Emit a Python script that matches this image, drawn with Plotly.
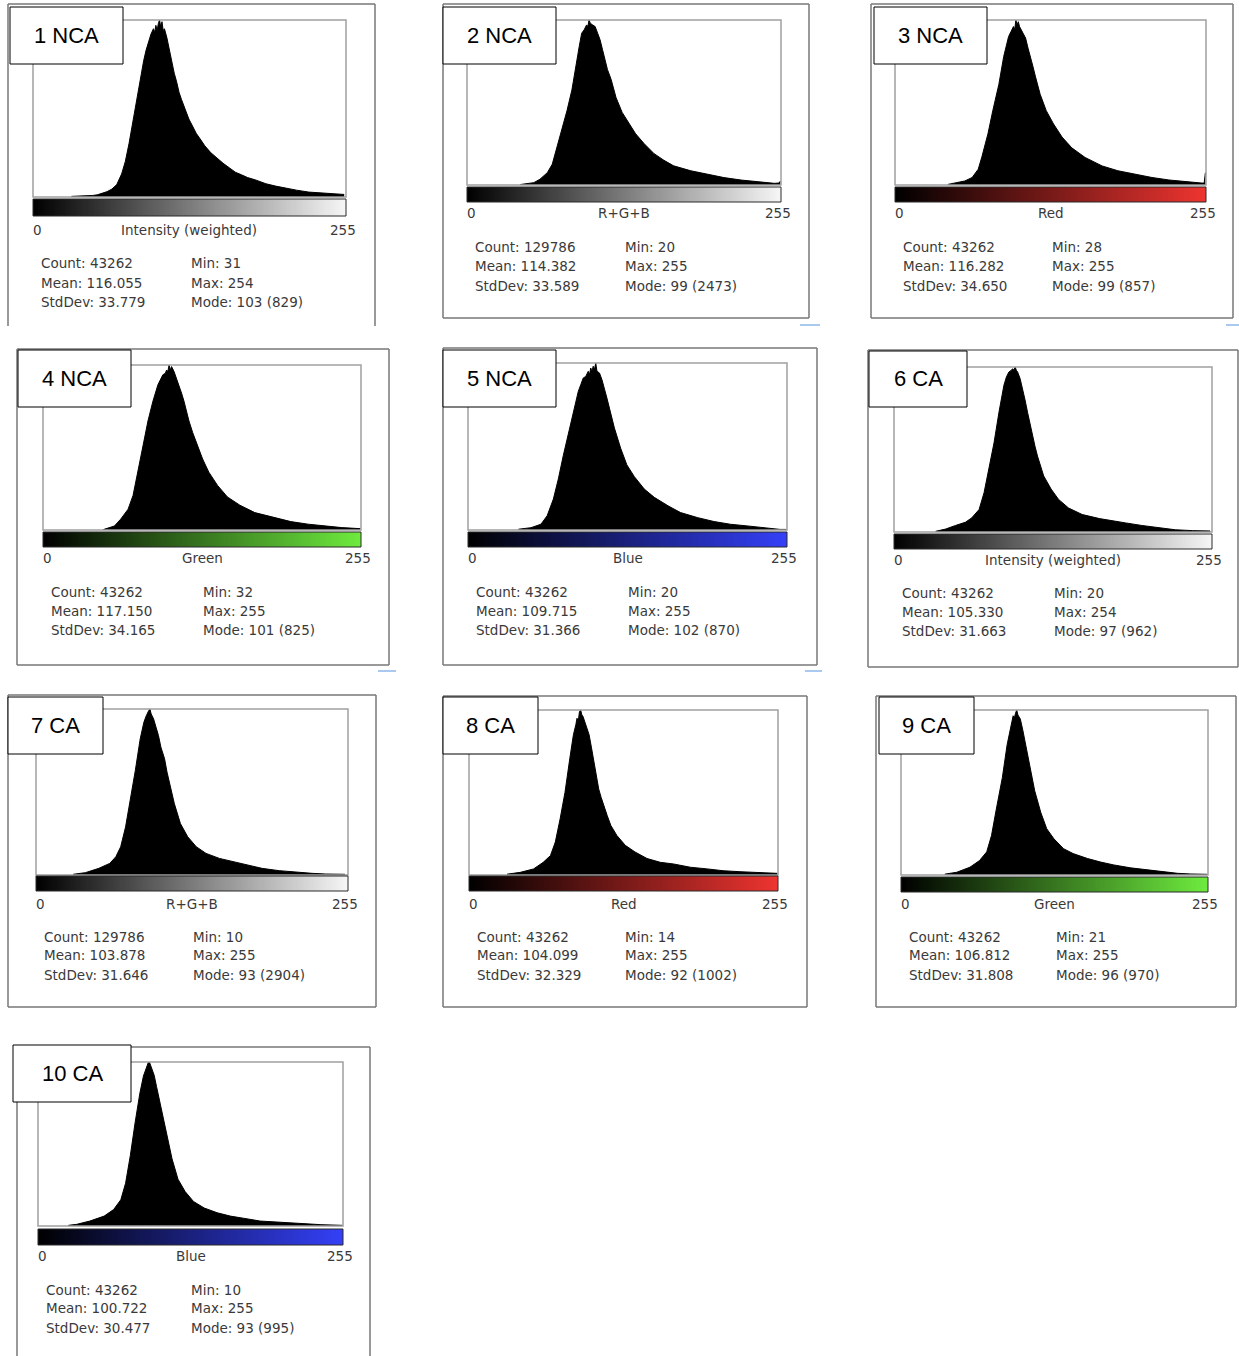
import plotly.graph_objects as go

W, H = 1239, 1356

# ---- per-panel summary statistics (ImageJ histogram readouts) ----
panel_titles = ["1 NCA", "2 NCA", "3 NCA", "4 NCA", "5 NCA",
                "6 CA", "7 CA", "8 CA", "9 CA", "10 CA"]
channel_names = ["Intensity (weighted)", "R+G+B", "Red", "Green", "Blue",
                 "Intensity (weighted)", "R+G+B", "Red", "Green", "Blue"]
pixel_counts = [43262, 129786, 43262, 43262, 43262, 43262, 129786, 43262, 43262, 43262]
means = ["116.055", "114.382", "116.282", "117.150", "109.715",
         "105.330", "103.878", "104.099", "106.812", "100.722"]
std_devs = ["33.779", "33.589", "34.650", "34.165", "31.366",
            "31.663", "31.646", "32.329", "31.808", "30.477"]
mins = [31, 20, 28, 32, 20, 20, 10, 14, 21, 10]
maxs = [254, 255, 255, 255, 255, 254, 255, 255, 255, 255]
modes = [103, 99, 99, 101, 102, 97, 93, 92, 96, 93]
mode_counts = [829, 2473, 857, 825, 870, 962, 2904, 1002, 970, 995]

# ---- histogram profiles: grey level -> pixel count ----
LEVELS_1 = [31, 40, 48, 52, 56, 60, 64, 68, 72, 75, 78, 80, 82, 84, 86, 88, 90, 92, 94, 96,
            98, 99, 100, 101, 102, 103, 104, 105, 106, 107, 109, 111, 113, 115, 117, 119, 121, 124, 127, 130,
            133, 136, 140, 145, 150, 155, 160, 165, 170, 175, 182, 190, 198, 206, 215, 225, 235, 245, 254]
COUNTS_1 = [3, 4, 7, 10, 17, 25, 37, 58, 108, 166, 249, 315, 390, 456, 514, 580, 638, 688, 730, 763,
            788, 771, 804, 779, 812, 829, 796, 821, 779, 788, 746, 688, 638, 580, 539, 489, 456, 406, 365, 332,
            298, 274, 240, 207, 182, 158, 137, 116, 104, 91, 79, 62, 51, 41, 32, 23, 18, 15, 12]

LEVELS_2 = [43, 54, 59, 65, 69, 73, 77, 81, 85, 88, 91, 93, 95, 97, 98, 99, 100, 102, 104, 106,
            108, 110, 112, 114, 117, 119, 121, 126, 132, 137, 144, 152, 160, 168, 182, 196, 209, 223, 237, 250,
            254, 255]
COUNTS_2 = [7, 35, 87, 185, 312, 569, 816, 1113, 1422, 1781, 2077, 2275, 2325, 2399, 2374, 2473, 2424, 2399, 2374, 2275,
            2176, 2028, 1879, 1731, 1583, 1434, 1311, 1088, 915, 767, 618, 470, 371, 287, 213, 161, 111, 74, 45, 25,
            30, 59]

LEVELS_3 = [43, 57, 63, 68, 71, 76, 80, 85, 89, 91, 93, 95, 97, 98, 99, 100, 101, 102, 104, 107,
            109, 111, 113, 115, 117, 119, 124, 130, 137, 145, 156, 170, 183, 197, 211, 225, 238, 252, 254, 255]
COUNTS_3 = [3, 21, 39, 82, 146, 266, 386, 523, 668, 720, 771, 797, 823, 806, 857, 831, 848, 823, 797, 763,
            711, 668, 617, 566, 514, 471, 386, 317, 249, 193, 143, 99, 74, 56, 39, 26, 17, 10, 10, 64]

LEVELS_4 = [48, 57, 62, 68, 72, 76, 80, 84, 88, 92, 94, 96, 98, 99, 100, 101, 102, 103, 105, 107,
            109, 111, 113, 115, 117, 120, 123, 128, 133, 140, 148, 158, 170, 186, 199, 213, 226, 240, 254, 255]
COUNTS_4 = [2, 20, 54, 104, 173, 289, 421, 545, 644, 726, 751, 776, 784, 800, 792, 825, 800, 817, 792, 759,
            726, 685, 644, 594, 545, 487, 437, 355, 289, 223, 165, 124, 87, 62, 42, 29, 20, 12, 7, 8]

LEVELS_5 = [40, 50, 58, 63, 68, 72, 76, 80, 84, 88, 90, 92, 94, 96, 97, 98, 99, 100, 101, 102,
            103, 105, 107, 109, 111, 113, 115, 117, 122, 127, 133, 141, 149, 160, 170, 184, 197, 210, 224, 237,
            243, 250, 255]
COUNTS_5 = [4, 12, 30, 74, 161, 266, 389, 496, 618, 722, 757, 792, 800, 827, 809, 844, 827, 853, 835, 870,
            827, 818, 783, 740, 687, 635, 583, 531, 426, 339, 278, 213, 170, 126, 91, 64, 44, 30, 21, 12,
            7, 3, 3]

LEVELS_6 = [33, 41, 49, 57, 62, 68, 72, 76, 80, 84, 88, 90, 92, 94, 95, 96, 97, 98, 99, 101,
            103, 105, 107, 109, 111, 113, 115, 120, 126, 132, 140, 151, 165, 175, 186, 199, 213, 226, 240, 254]
COUNTS_6 = [4, 17, 38, 57, 82, 131, 229, 366, 519, 698, 856, 904, 933, 943, 952, 943, 962, 943, 933, 895,
            837, 770, 698, 625, 558, 500, 443, 327, 250, 190, 140, 102, 78, 68, 53, 38, 23, 13, 8, 6]

LEVELS_7 = [30, 40, 51, 60, 65, 69, 73, 77, 81, 85, 88, 90, 91, 92, 93, 94, 96, 98, 100, 102,
            105, 107, 109, 111, 113, 118, 124, 131, 139, 150, 161, 172, 185, 199, 213, 226, 237, 253]
COUNTS_7 = [12, 41, 116, 203, 319, 494, 842, 1307, 1830, 2381, 2672, 2788, 2846, 2875, 2904, 2817, 2730, 2585, 2439, 2236,
            2033, 1800, 1612, 1423, 1249, 900, 668, 494, 378, 290, 232, 174, 116, 76, 46, 29, 17, 12]

LEVELS_8 = [31, 42, 53, 61, 67, 71, 75, 79, 83, 86, 88, 89, 90, 91, 92, 93, 94, 96, 99, 101,
            103, 105, 107, 109, 111, 114, 117, 122, 129, 137, 147, 158, 169, 183, 197, 210, 224, 238, 252, 255]
COUNTS_8 = [5, 16, 37, 77, 118, 200, 341, 501, 707, 852, 912, 952, 932, 992, 1002, 972, 962, 922, 852, 772,
            686, 601, 521, 471, 421, 361, 301, 240, 180, 140, 100, 77, 67, 47, 37, 26, 20, 14, 10, 10]

LEVELS_9 = [36, 46, 57, 65, 71, 75, 79, 84, 88, 91, 92, 93, 94, 95, 96, 97, 98, 99, 101, 103,
            105, 107, 109, 111, 116, 121, 127, 135, 143, 155, 166, 177, 191, 205, 219, 230, 241, 255]
COUNTS_9 = [5, 16, 46, 85, 136, 233, 388, 572, 766, 883, 902, 936, 922, 951, 970, 941, 931, 917, 854, 786,
            708, 631, 563, 495, 369, 272, 213, 155, 126, 97, 76, 59, 42, 30, 19, 10, 6, 4]

LEVELS_10 = [25, 32, 43, 55, 63, 69, 73, 77, 81, 85, 88, 90, 91, 92, 93, 94, 95, 97, 99, 101,
             104, 106, 108, 110, 112, 117, 123, 130, 139, 150, 161, 172, 186, 200, 214, 228, 237, 250, 255]
COUNTS_10 = [4, 10, 30, 60, 100, 159, 259, 428, 627, 806, 910, 945, 971, 991, 995, 975, 960, 915, 846, 776,
             687, 607, 527, 468, 408, 284, 209, 149, 109, 80, 60, 47, 30, 24, 16, 12, 8, 4, 4]

hist_levels = [LEVELS_1, LEVELS_2, LEVELS_3, LEVELS_4, LEVELS_5,
               LEVELS_6, LEVELS_7, LEVELS_8, LEVELS_9, LEVELS_10]
hist_counts = [COUNTS_1, COUNTS_2, COUNTS_3, COUNTS_4, COUNTS_5,
               COUNTS_6, COUNTS_7, COUNTS_8, COUNTS_9, COUNTS_10]

# LUT end colour for each channel's calibration bar
lut_end = {
    "Intensity (weighted)": "rgb(246,246,246)",
    "R+G+B": "rgb(246,246,246)",
    "Red": "rgb(238,52,48)",
    "Green": "rgb(110,235,62)",
    "Blue": "rgb(52,64,248)",
}

# ---- panel placement in page pixels ----
# frame: (x0, y0, x1, y1, has_bottom) ; box: title box ; plot: (x0, top, x1, base)
GEOM = [
    dict(frame=(8, 4, 375, 326, False), box=(10, 7, 123, 64), plot=(33, 20, 346, 197), cbar=(199, 216), lab_y=230, rows=(263, 283, 302)),
    dict(frame=(443, 4, 809, 318, True), box=(443, 7, 556, 64), plot=(467, 20, 781, 185), cbar=(187, 202), lab_y=213, rows=(247, 266, 286)),
    dict(frame=(871, 4, 1233, 318, True), box=(874, 7, 987, 64), plot=(895, 20, 1206, 185), cbar=(187, 202), lab_y=213, rows=(247, 266, 286)),
    dict(frame=(17, 349, 389, 665, True), box=(18, 350, 131, 407), plot=(43, 365, 361, 530), cbar=(532, 547), lab_y=558, rows=(592, 611, 630)),
    dict(frame=(443, 348, 817, 665, True), box=(443, 350, 556, 407), plot=(468, 363, 787, 530), cbar=(532, 547), lab_y=558, rows=(592, 611, 630)),
    dict(frame=(868, 350, 1238, 667, True), box=(869, 351, 967, 407), plot=(894, 367, 1212, 532), cbar=(534, 549), lab_y=560, rows=(593, 612, 631)),
    dict(frame=(8, 695, 376, 1007, True), box=(8, 697, 103, 754), plot=(36, 709, 348, 875), cbar=(876, 891), lab_y=904, rows=(937, 955, 975)),
    dict(frame=(443, 696, 807, 1007, True), box=(443, 697, 538, 754), plot=(469, 710, 778, 875), cbar=(876, 891), lab_y=904, rows=(937, 955, 975)),
    dict(frame=(876, 696, 1236, 1007, True), box=(879, 697, 974, 754), plot=(901, 710, 1208, 875), cbar=(877, 892), lab_y=904, rows=(937, 955, 975)),
    dict(frame=(17, 1047, 370, 1356, False), box=(13, 1045, 131, 1102), plot=(38, 1062, 343, 1226), cbar=(1229, 1245), lab_y=1256, rows=(1290, 1308, 1328)),
]

# small light-blue selection marks below some panels
ACCENTS = [(800, 820, 325), (1226, 1239, 325), (378, 396, 671), (805, 822, 671)]


def px(x):
    return x / W


def py(y):
    return 1 - y / H


STAT_FONT = dict(family="DejaVu Sans", size=13.5, color="#3a3a3a")
TITLE_FONT = dict(family="Liberation Sans, Arial", size=22, color="black")

fig = go.Figure()
layout_axes = {}
shapes = []
annotations = []

for i in range(len(panel_titles)):
    g = GEOM[i]
    hx, cx = 2 * i + 1, 2 * i + 2
    hname = "" if hx == 1 else str(hx)
    cname = str(cx)
    x0, top, x1, base = g["plot"]
    cy0, cy1 = g["cbar"]

    # histogram
    fig.add_trace(go.Scatter(
        x=[lv + 0.5 for lv in hist_levels[i]], y=hist_counts[i],
        mode="lines", fill="tozeroy", fillcolor="black",
        line=dict(color="black", width=1),
        xaxis="x" + hname, yaxis="y" + hname,
        hoverinfo="skip", showlegend=False,
    ))
    layout_axes["xaxis" + hname] = dict(domain=[px(x0), px(x1)], range=[0, 256], visible=False,
                                        anchor="y" + hname, fixedrange=True)
    layout_axes["yaxis" + hname] = dict(domain=[py(base), py(top)], range=[0, mode_counts[i]], visible=False,
                                        anchor="x" + hname, fixedrange=True)

    # LUT calibration bar
    fig.add_trace(go.Heatmap(
        z=[list(range(256))], zmin=0, zmax=255,
        colorscale=[[0, "black"], [1, lut_end[channel_names[i]]]],
        showscale=False, hoverinfo="skip",
        xaxis="x" + cname, yaxis="y" + cname,
    ))
    layout_axes["xaxis" + cname] = dict(domain=[px(x0), px(x1)], range=[-0.5, 255.5], visible=False,
                                        anchor="y" + cname, fixedrange=True)
    layout_axes["yaxis" + cname] = dict(domain=[py(cy1), py(cy0)], range=[-0.5, 0.5], visible=False,
                                        anchor="x" + cname, fixedrange=True)

    # outer window frame
    fx0, fy0, fx1, fy1, closed = g["frame"]
    frame_line = dict(color="#777777", width=1.5)
    shapes.append(dict(type="line", xref="paper", yref="paper", x0=px(fx0), x1=px(fx1), y0=py(fy0), y1=py(fy0), line=frame_line))
    shapes.append(dict(type="line", xref="paper", yref="paper", x0=px(fx0), x1=px(fx0), y0=py(fy0), y1=py(fy1), line=frame_line))
    shapes.append(dict(type="line", xref="paper", yref="paper", x0=px(fx1), x1=px(fx1), y0=py(fy0), y1=py(fy1), line=frame_line))
    if closed:
        shapes.append(dict(type="line", xref="paper", yref="paper", x0=px(fx0), x1=px(fx1), y0=py(fy1), y1=py(fy1), line=frame_line))

    # histogram frame and LUT bar outline
    shapes.append(dict(type="rect", xref="paper", yref="paper", x0=px(x0), x1=px(x1), y0=py(base), y1=py(top),
                       line=dict(color="#a0a0a0", width=1.5), fillcolor="rgba(0,0,0,0)"))
    shapes.append(dict(type="rect", xref="paper", yref="paper", x0=px(x0), x1=px(x1), y0=py(cy1), y1=py(cy0),
                       line=dict(color="#2a2a2a", width=1), fillcolor="rgba(0,0,0,0)"))

    # title box
    bx0, by0, bx1, by1 = g["box"]
    shapes.append(dict(type="rect", xref="paper", yref="paper", x0=px(bx0), x1=px(bx1), y0=py(by1), y1=py(by0),
                       line=dict(color="black", width=1), fillcolor="white"))
    annotations.append(dict(text=panel_titles[i], xref="paper", yref="paper", x=px((bx0 + bx1) / 2), y=py((by0 + by1) / 2),
                            xanchor="center", yanchor="middle", showarrow=False, font=TITLE_FONT))

    # axis labels
    annotations.append(dict(text="0", xref="paper", yref="paper", x=px(x0 - 2), y=py(g["lab_y"]),
                            xanchor="left", yanchor="middle", showarrow=False, font=STAT_FONT))
    annotations.append(dict(text="255", xref="paper", yref="paper", x=px(x1 + 12), y=py(g["lab_y"]),
                            xanchor="right", yanchor="middle", showarrow=False, font=STAT_FONT))
    annotations.append(dict(text=channel_names[i], xref="paper", yref="paper", x=px((x0 + x1) / 2), y=py(g["lab_y"]),
                            xanchor="center", yanchor="middle", showarrow=False, font=STAT_FONT))

    # statistics block
    col1 = x0 + 6
    col2 = (x0 + x1) / 2 - 1
    left_col = [f"Count: {pixel_counts[i]}", f"Mean: {means[i]}", f"StdDev: {std_devs[i]}"]
    right_col = [f"Min: {mins[i]}", f"Max: {maxs[i]}", f"Mode: {modes[i]} ({mode_counts[i]})"]
    for row_y, lt, rt in zip(g["rows"], left_col, right_col):
        annotations.append(dict(text=lt, xref="paper", yref="paper", x=px(col1), y=py(row_y),
                                xanchor="left", yanchor="middle", showarrow=False, font=STAT_FONT))
        annotations.append(dict(text=rt, xref="paper", yref="paper", x=px(col2), y=py(row_y),
                                xanchor="left", yanchor="middle", showarrow=False, font=STAT_FONT))

for ax0, ax1, ay in ACCENTS:
    shapes.append(dict(type="line", xref="paper", yref="paper", x0=px(ax0), x1=px(ax1), y0=py(ay), y1=py(ay),
                       line=dict(color="#a9c9ef", width=2)))

fig.update_layout(
    width=W, height=H,
    margin=dict(l=0, r=0, t=0, b=0),
    paper_bgcolor="white", plot_bgcolor="white",
    shapes=shapes, annotations=annotations,
    showlegend=False,
    **layout_axes,
)

fig.write_html("out.html", config={"displayModeBar": False})
